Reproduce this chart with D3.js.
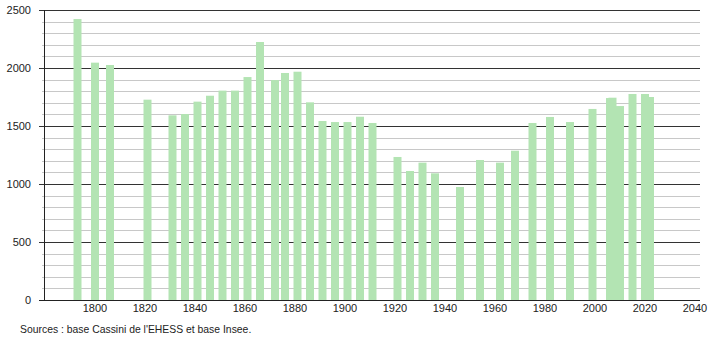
<html>
<head>
<script src="https://d3js.org/d3.v7.min.js"></script>
<style>
body { margin: 0; background: #fff; }
text { font-family: "Liberation Sans", Arial, sans-serif; }
</style>
</head>
<body>
<svg id="chart" width="710" height="340"></svg>
<script>
var years = [1793, 1800, 1806, 1821, 1831, 1836, 1841, 1846, 1851, 1856,
	1861, 1866, 1872, 1876, 1881, 1886, 1891, 1896, 1901, 1906, 1911,
	1921, 1926, 1931, 1936, 1946, 1954, 1962, 1968, 1975, 1982, 1990,
	1999, 2006, 2007, 2010, 2015, 2020, 2022];
var population = [2422, 2046, 2026, 1727, 1592, 1603, 1710, 1761, 1805, 1805,
	1922, 2224, 1896, 1957, 1968, 1704, 1543, 1534, 1534, 1580, 1526,
	1233, 1112, 1184, 1092, 974, 1207, 1184, 1287, 1526, 1578, 1534,
	1647, 1741, 1744, 1672, 1776, 1776, 1750];
var yTicks = [0, 500, 1000, 1500, 2000, 2500];
var xTicks = [1800, 1820, 1840, 1860, 1880, 1900, 1920, 1940, 1960, 1980, 2000, 2020, 2040];
var source = "Sources : base Cassini de l'EHESS et base Insee.";

var plotLeft = 44, plotRight = 700, plotTop = 10, plotBottom = 300;
var svg = d3.select("#chart");

var xScale = d3.scaleLinear().domain([1779.6, 2042]).range([plotLeft, plotRight]);
var yScale = d3.scaleLinear().domain([0, 2500]).range([plotBottom, plotTop]);

// minor grid every 100
var minor = d3.range(100, 2500, 100).filter(function(v){ return v % 500 != 0; });
svg.append("g").selectAll("line").data(minor).enter().append("line")
	.attr("x1", plotLeft - 2).attr("x2", plotRight)
	.attr("y1", function(d){ return Math.round(yScale(d)) + 0.5; })
	.attr("y2", function(d){ return Math.round(yScale(d)) + 0.5; })
	.attr("stroke", "#c8c8c8").attr("stroke-width", 1);

// major grid
svg.append("g").selectAll("line").data(yTicks).enter().append("line")
	.attr("x1", plotLeft - 5).attr("x2", plotRight)
	.attr("y1", function(d){ return Math.round(yScale(d)) + 0.5; })
	.attr("y2", function(d){ return Math.round(yScale(d)) + 0.5; })
	.attr("stroke", "#333").attr("stroke-width", 1);

// bars
var barW = 8;
svg.append("g").selectAll("rect").data(years).enter().append("rect")
	.attr("x", function(d){ return xScale(d) - barW / 2; })
	.attr("y", function(d, i){ return yScale(population[i]); })
	.attr("width", barW)
	.attr("height", function(d, i){ return yScale(0) - yScale(population[i]); })
	.attr("fill", "#b3e4b3");

// axes lines
svg.append("line").attr("x1", plotLeft + 0.5).attr("x2", plotLeft + 0.5)
	.attr("y1", plotTop).attr("y2", plotBottom + 1).attr("stroke", "#222");
svg.append("line").attr("x1", plotLeft - 5).attr("x2", plotRight)
	.attr("y1", plotBottom + 0.5).attr("y2", plotBottom + 0.5).attr("stroke", "#222");

// y labels
svg.append("g").selectAll("text").data(yTicks).enter().append("text")
	.attr("x", 31).attr("y", function(d){ return yScale(d) + 4; })
	.attr("text-anchor", "end").attr("font-size", 11).attr("fill", "#222")
	.text(function(d){ return d; });

// x labels
svg.append("g").selectAll("text").data(xTicks).enter().append("text")
	.attr("x", function(d){ return xScale(d); }).attr("y", 312)
	.attr("text-anchor", "middle").attr("font-size", 11).attr("fill", "#222")
	.text(function(d){ return d; });

svg.append("text").attr("x", 20).attr("y", 333)
	.attr("font-size", 10.4).attr("fill", "#222").text(source);
</script>
</body>
</html>
